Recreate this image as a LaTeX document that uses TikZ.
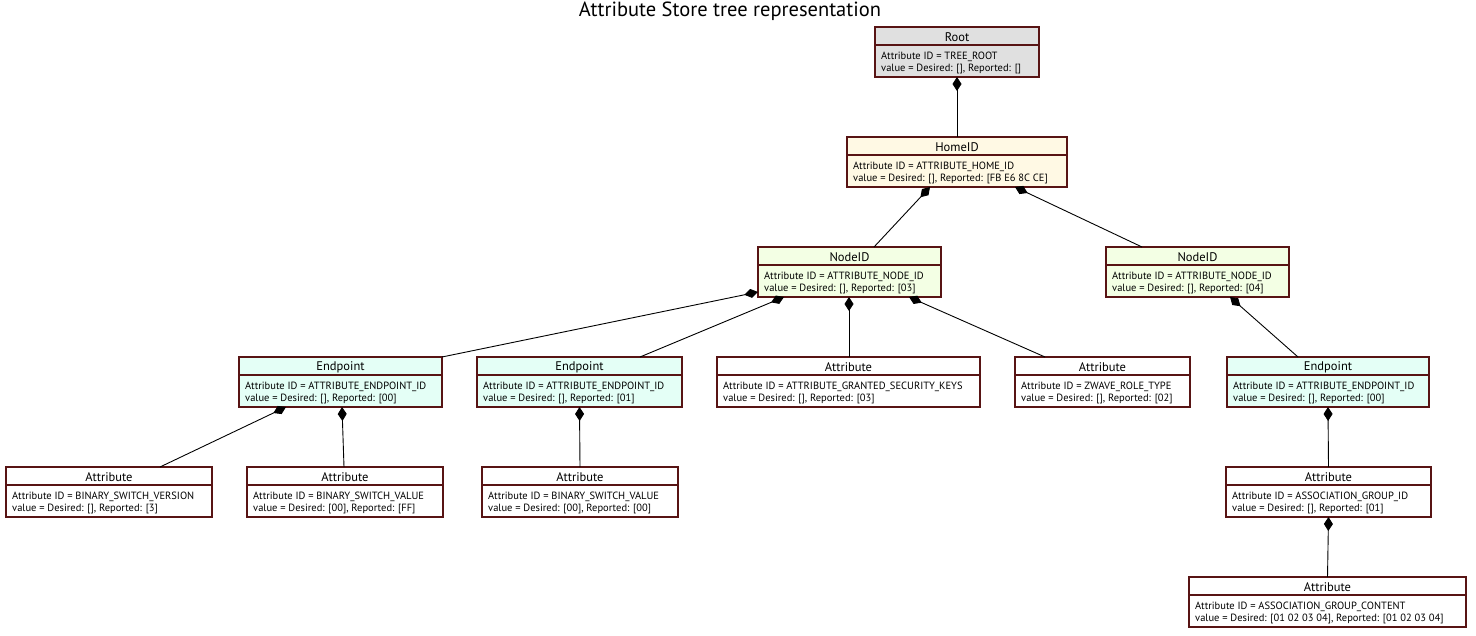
\documentclass[tikz,border=0pt]{standalone}
\usepackage{fontspec}
\setmainfont{PT Sans}
\usetikzlibrary{arrows.meta,calc}
\definecolor{bord}{RGB}{88,20,20}
\definecolor{rootfill}{RGB}{224,224,224}
\definecolor{homefill}{RGB}{255,249,228}
\definecolor{nodefill}{RGB}{243,255,228}
\definecolor{epfill}{RGB}{228,255,246}
\definecolor{attrfill}{RGB}{255,255,255}
\tikzset{
  umlbox/.style={draw=bord, line width=1.8pt, rectangle, minimum height=50pt, inner sep=0pt, outer sep=0pt},
  divider/.style={draw=bord, line width=1.2pt},
  hdr/.style={inner sep=0pt, font=\fontsize{12.5}{14}\selectfont},
  bodytxt/.style={inner sep=0pt, align=left, font=\fontsize{10.5}{12}\selectfont},
  comp/.style={line width=0.9pt, {Diamond[length=14pt,width=9pt]}-},
  titletxt/.style={inner sep=0pt, font=\fontsize{20.5}{24}\selectfont}
}
\newcommand\umlbox[8]{%
  \node[umlbox, fill=#5, minimum width={#4-#2}, anchor=north west] (#1) at (#2,#3) {};
  \draw[divider] ($(#1.north west)+(0,18)$) -- ($(#1.north east)+(0,18)$);
  \node[hdr] at ($(#1.north)+(0,10)$) {#6};
  \node[bodytxt, anchor=north west] at ($(#1.north west)+(6,24.5)$) {#7\\#8};
}
\begin{document}
\begin{tikzpicture}[x=1pt,y=-1pt]
\fill[white] (0,0) rectangle (1476,636);
\useasboundingbox (0,0) rectangle (1476,636);
\node[titletxt] (title) at (730,11) {Attribute Store tree representation};

\umlbox{root}{875}{27}{1039}{rootfill}{Root}{Attribute ID = TREE\_ROOT}{value = Desired: [], Reported: []}
\umlbox{home}{847}{137}{1067}{homefill}{HomeID}{Attribute ID = ATTRIBUTE\_HOME\_ID}{value = Desired: [], Reported: [FB E6 8C CE]}
\umlbox{na}{758}{247}{941}{nodefill}{NodeID}{Attribute ID = ATTRIBUTE\_NODE\_ID}{value = Desired: [], Reported: [03]}
\umlbox{nb}{1106}{247}{1289}{nodefill}{NodeID}{Attribute ID = ATTRIBUTE\_NODE\_ID}{value = Desired: [], Reported: [04]}
\umlbox{ea}{239}{357}{442}{epfill}{Endpoint}{Attribute ID = ATTRIBUTE\_ENDPOINT\_ID}{value = Desired: [], Reported: [00]}
\umlbox{eb}{477}{357}{682}{epfill}{Endpoint}{Attribute ID = ATTRIBUTE\_ENDPOINT\_ID}{value = Desired: [], Reported: [01]}
\umlbox{gsk}{717}{357}{980}{attrfill}{Attribute}{Attribute ID = ATTRIBUTE\_GRANTED\_SECURITY\_KEYS}{value = Desired: [], Reported: [03]}
\umlbox{role}{1015}{357}{1190}{attrfill}{Attribute}{Attribute ID = ZWAVE\_ROLE\_TYPE}{value = Desired: [], Reported: [02]}
\umlbox{ec}{1227}{357}{1429}{epfill}{Endpoint}{Attribute ID = ATTRIBUTE\_ENDPOINT\_ID}{value = Desired: [], Reported: [00]}
\umlbox{bsver}{6}{467}{212}{attrfill}{Attribute}{Attribute ID = BINARY\_SWITCH\_VERSION}{value = Desired: [], Reported: [3]}
\umlbox{bsval}{247}{467}{443}{attrfill}{Attribute}{Attribute ID = BINARY\_SWITCH\_VALUE}{value = Desired: [00], Reported: [FF]}
\umlbox{bsvalb}{482}{467}{678}{attrfill}{Attribute}{Attribute ID = BINARY\_SWITCH\_VALUE}{value = Desired: [00], Reported: [00]}
\umlbox{agid}{1226}{467}{1431}{attrfill}{Attribute}{Attribute ID = ASSOCIATION\_GROUP\_ID}{value = Desired: [], Reported: [01]}
\umlbox{agc}{1189}{577}{1466}{attrfill}{Attribute}{Attribute ID = ASSOCIATION\_GROUP\_CONTENT}{value = Desired: [01 02 03 04], Reported: [01 02 03 04]}

\draw[comp] (root.south) -- (home.north);
\draw[comp] ($(home.south west)+(83,0)$) -- ($(na.north west)+(116,0)$);
\draw[comp] ($(home.south west)+(168,0)$) -- ($(nb.north west)+(36,0)$);
\draw[comp] ($(na.south west)+(0,-5)$) -- (ea.north east);
\draw[comp] ($(na.south west)+(26,0)$) -- ($(eb.north west)+(163,0)$);
\draw[comp] ($(na.south west)+(91,0)$) -- ($(gsk.north west)+(132,0)$);
\draw[comp] ($(na.south west)+(151,0)$) -- ($(role.north west)+(30,0)$);
\draw[comp] ($(nb.south west)+(124,0)$) -- ($(ec.north west)+(71,0)$);
\draw[comp] ($(ea.south west)+(47,0)$) -- ($(bsver.north west)+(154,0)$);
\draw[comp] ($(ea.south west)+(103,0)$) -- ($(bsval.north west)+(97,0)$);
\draw[comp] (eb.south) -- (bsvalb.north);
\draw[comp] (ec.south) -- (agid.north);
\draw[comp] (agid.south) -- (agc.north);
\end{tikzpicture}
\end{document}
